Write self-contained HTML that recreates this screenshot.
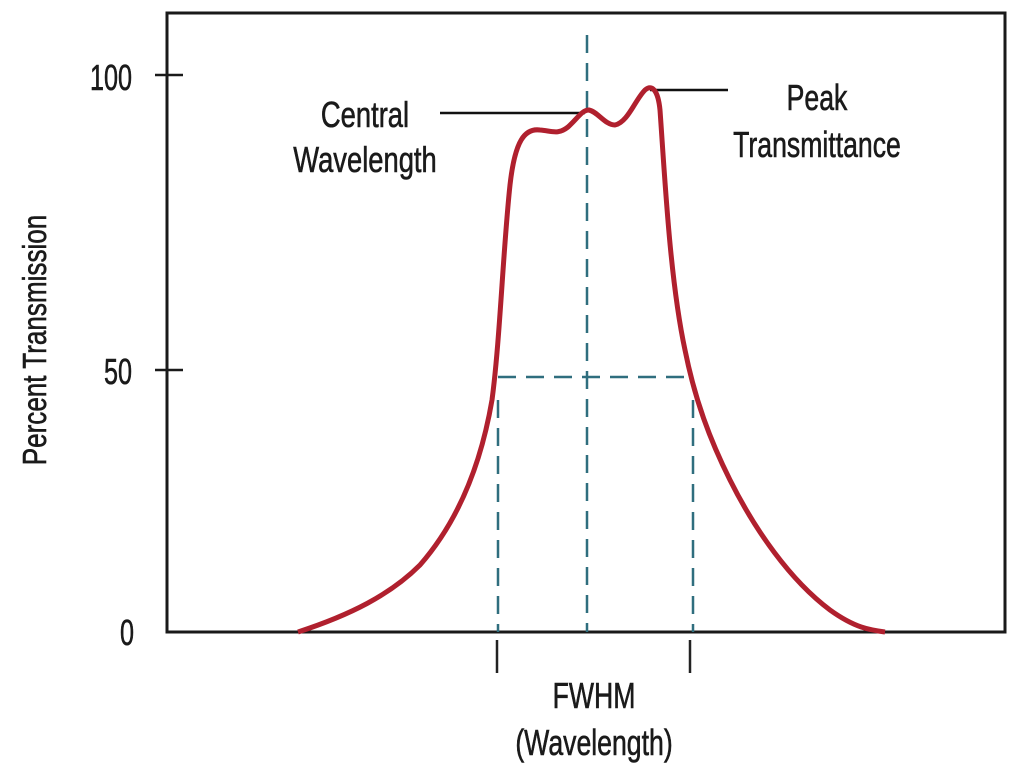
<!DOCTYPE html>
<html><head><meta charset="utf-8"><style>body{margin:0;background:#fff}svg{display:block}</style></head>
<body>
<svg width="1024" height="773" viewBox="0 0 1024 773" xmlns="http://www.w3.org/2000/svg" font-family="'Liberation Sans',sans-serif" fill="#1a1a1a">
<rect x="167" y="13" width="838" height="619" fill="none" stroke="#1a1a1a" stroke-width="3"/>
<line x1="155" y1="75" x2="183" y2="75" stroke="#1a1a1a" stroke-width="2.5"/>
<line x1="155" y1="370" x2="183" y2="370" stroke="#1a1a1a" stroke-width="2.5"/>
<g font-size="36" stroke="#1a1a1a" stroke-width="0.6">
<text transform="translate(132,90) scale(0.7,1)" text-anchor="end">100</text>
<text transform="translate(132,384) scale(0.7,1)" text-anchor="end">50</text>
<text transform="translate(134,645) scale(0.7,1)" text-anchor="end">0</text>
<text transform="translate(46,340) rotate(-90) scale(0.79,1)" font-size="33" text-anchor="middle">Percent Transmission</text>
</g>
<g stroke="#2f6e7e" stroke-width="2.5" stroke-dasharray="18,10" fill="none">
<line x1="587" y1="35" x2="587" y2="632"/>
<line x1="498" y1="377" x2="692" y2="377"/>
<line x1="498" y1="400" x2="498" y2="632"/>
<line x1="693" y1="400" x2="693" y2="632"/>
</g>
<line x1="440" y1="113" x2="585" y2="113" stroke="#111" stroke-width="2.5"/>
<line x1="650" y1="90" x2="728" y2="90" stroke="#111" stroke-width="2.5"/>
<path d="M298,632 C350,615 390,595 420,565 C455,525 480,470 492,400 C500,340 503,250 510,185 C515,140 525,128 540,130 C552,131 558,135 568,127 C578,118 582,110 589,110 C598,112 605,125 615,125 C628,122 635,100 645,90 C652,84 658,90 660,110 C665,180 670,280 685,350 C695,400 710,440 730,480 C755,530 790,580 830,610 C855,628 870,630 885,632" fill="none" stroke="#b0202e" stroke-width="5" stroke-linejoin="round"/>
<line x1="497" y1="640" x2="497" y2="673" stroke="#222" stroke-width="2.5"/>
<line x1="690" y1="640" x2="690" y2="673" stroke="#222" stroke-width="2.5"/>
<g font-size="36" text-anchor="middle" stroke="#1a1a1a" stroke-width="0.6">
<text transform="translate(365,127) scale(0.76,1)">Central</text>
<text transform="translate(365,172) scale(0.76,1)">Wavelength</text>
<text transform="translate(817,110) scale(0.74,1)">Peak</text>
<text transform="translate(817,157) scale(0.74,1)">Transmittance</text>
<text transform="translate(594,708) scale(0.74,1)">FWHM</text>
<text transform="translate(594,755) scale(0.74,1)">(Wavelength)</text>
</g>
</svg>
</body></html>
